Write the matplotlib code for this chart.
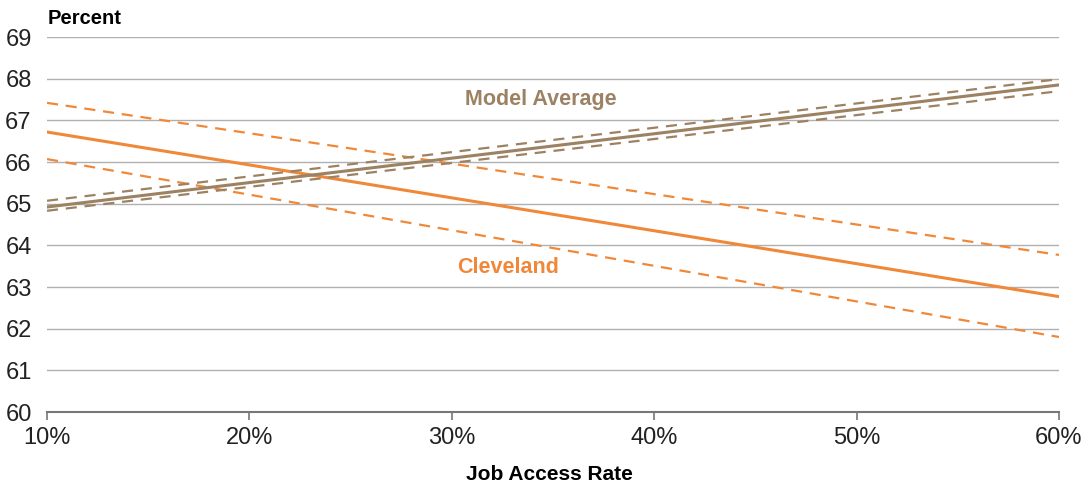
import matplotlib.pyplot as plt

plt.rcParams['font.family'] = ['Liberation Sans', 'DejaVu Sans']

# job access rate (%)
access = [10, 60]

cleveland = [66.72, 62.77]
cleveland_hi = [67.42, 63.77]
cleveland_lo = [66.07, 61.80]

model_avg = [64.92, 67.85]
model_hi = [65.07, 67.99]
model_lo = [64.83, 67.70]

yticks = list(range(60, 70))
xticks = [10, 20, 30, 40, 50, 60]

orange = '#F0883A'
brown = '#9C8262'

fig = plt.figure(figsize=(10.83, 4.87), dpi=100)
ax = fig.add_axes([0.0434, 0.154, 0.9344, 0.77])

ax.plot(access, cleveland_hi, '--', color=orange, lw=1.6, dashes=(5, 3.5))
ax.plot(access, cleveland_lo, '--', color=orange, lw=1.6, dashes=(5, 3.5))
ax.plot(access, cleveland, '-', color=orange, lw=2.2)

ax.plot(access, model_hi, '--', color=brown, lw=1.6, dashes=(5, 3.5))
ax.plot(access, model_lo, '--', color=brown, lw=1.6, dashes=(5, 3.5))
ax.plot(access, model_avg, '-', color=brown, lw=2.2)

ax.text(34.4, 67.49, 'Model Average', color=brown, fontsize=15.5, fontweight='bold',
        ha='center', va='center')
ax.text(32.8, 63.46, 'Cleveland', color=orange, fontsize=15.5, fontweight='bold',
        ha='center', va='center')

ax.set_xlim(10, 60)
ax.set_ylim(60, 69)
ax.set_yticks(yticks)
ax.set_xticks(xticks)
ax.set_xticklabels([f'{x}%' for x in xticks])
ax.grid(axis='y', color='#b0b0b0', lw=1)
ax.set_axisbelow(True)

for s in ['top', 'right', 'left']:
    ax.spines[s].set_visible(False)
ax.spines['bottom'].set_color('#777777')
ax.spines['bottom'].set_linewidth(1.5)
ax.tick_params(axis='y', length=0, labelsize=17, pad=11, labelcolor='#222222')
ax.tick_params(axis='x', length=6, width=1.2, color='#777777', labelsize=17,
               pad=5, labelcolor='#222222')

fig.text(48 / 1083, 1 - 19 / 487, 'Percent', fontsize=14.5, fontweight='bold', va='center')
fig.text(549 / 1083, 1 - 474 / 487, 'Job Access Rate', fontsize=15, fontweight='bold',
         ha='center', va='center')

fig.savefig('out.png', dpi=100)
